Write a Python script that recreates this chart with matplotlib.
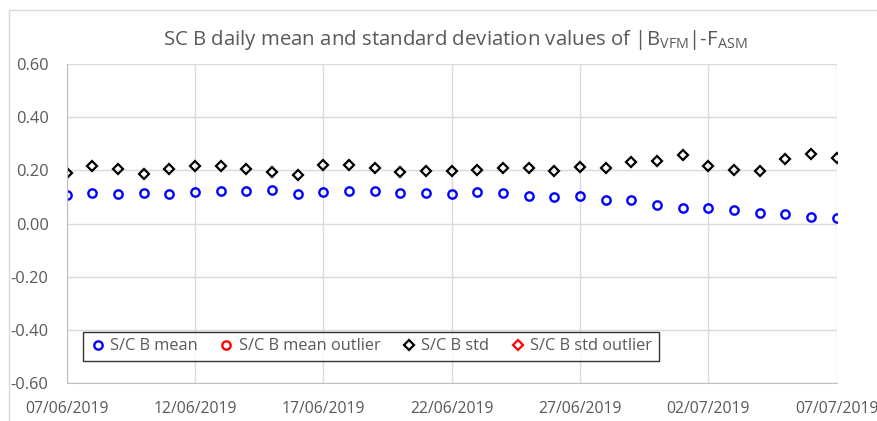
import matplotlib
matplotlib.use("Agg")
import matplotlib.pyplot as plt
import matplotlib.dates as mdates
from matplotlib.patches import Rectangle
import pandas as pd
import numpy as np

dates = pd.date_range("2019-06-07", "2019-07-07", freq="D")
mean_vals = [0.107, 0.116, 0.110, 0.116, 0.110, 0.120, 0.123, 0.123, 0.127, 0.111,
             0.120, 0.124, 0.124, 0.114, 0.114, 0.110, 0.120, 0.116, 0.102, 0.098,
             0.105, 0.089, 0.089, 0.070, 0.058, 0.058, 0.052, 0.041, 0.035, 0.023, 0.020]
std_vals = [0.189, 0.218, 0.204, 0.187, 0.204, 0.215, 0.218, 0.204, 0.194, 0.183,
            0.221, 0.221, 0.208, 0.192, 0.196, 0.196, 0.200, 0.208, 0.208, 0.196,
            0.212, 0.208, 0.231, 0.234, 0.258, 0.218, 0.202, 0.199, 0.241, 0.262, 0.245]
mean_outlier = []
std_outlier = []
title = r"SC B daily mean and standard deviation values of |B$_{\mathregular{VFM}}$|-F$_{\mathregular{ASM}}$"
labels = ["S/C B mean", "S/C B mean outlier", "S/C B std", "S/C B std outlier"]

plt.rcParams["font.family"] = ["Open Sans", "DejaVu Sans"]
txt = "#595959"
grid = "#d9d9d9"

fig = plt.figure(figsize=(8.78, 4.21), dpi=100)
fig.patches.append(Rectangle((9 / 878, -0.1), 1.2, 1 - 10 / 421 + 0.1, transform=fig.transFigure,
                             fill=False, edgecolor=grid, linewidth=1.0))
ax = fig.add_axes([66.7 / 878, 1 - 383 / 421, (836.5 - 66.7) / 878, (383 - 64) / 421])

ax.plot(dates, mean_vals, linestyle="none", marker="o", markersize=6, markerfacecolor="none",
        markeredgecolor="#0000ff", markeredgewidth=1.7, label=labels[0])
ax.plot([], [], linestyle="none", marker="o", markersize=6, markerfacecolor="none",
        markeredgecolor="#ff0000", markeredgewidth=1.7, label=labels[1])
ax.plot(dates, std_vals, linestyle="none", marker="D", markersize=5.5, markerfacecolor="none",
        markeredgecolor="#000000", markeredgewidth=1.6, label=labels[2])
ax.plot([], [], linestyle="none", marker="D", markersize=5.5, markerfacecolor="none",
        markeredgecolor="#ff0000", markeredgewidth=1.6, label=labels[3])

ax.set_xlim(dates[0], dates[-1])
ax.set_ylim(-0.6, 0.6)
ax.set_yticks(np.arange(-0.6, 0.61, 0.2))
ax.yaxis.set_major_formatter(matplotlib.ticker.FormatStrFormatter("%.2f"))
ax.set_xticks(pd.date_range(dates[0], dates[-1], freq="5D"))
ax.xaxis.set_major_formatter(mdates.DateFormatter("%d/%m/%Y"))
ax.tick_params(axis="both", length=0, labelsize=11.8, labelcolor=txt)
ax.tick_params(axis="x", labelsize=11.3)
ax.tick_params(axis="y", pad=13)
ax.tick_params(axis="x", pad=13)
ax.grid(True, color=grid, linewidth=1.0)
ax.set_axisbelow(True)
for s in ["top", "right"]:
    ax.spines[s].set_visible(False)
ax.spines["left"].set_color("#bfbfbf")
ax.spines["bottom"].set_color("#bfbfbf")

fig.text(455 / 878, 1 - 40 / 421, title, ha="center", va="center", fontsize=14.7, color=txt)

leg = ax.legend(loc="lower left", bbox_to_anchor=((83 - 66.7) / (836.5 - 66.7), (383 - 361) / (383 - 64)),
                ncol=4, frameon=True, fancybox=False, fontsize=11.8, handletextpad=0.25,
                columnspacing=1.25, borderpad=0.4, handlelength=1.0, labelcolor=txt,
                borderaxespad=0.0)
leg.get_frame().set_edgecolor("#000000")
leg.get_frame().set_linewidth(1.0)

fig.savefig("out.png", dpi=100)
